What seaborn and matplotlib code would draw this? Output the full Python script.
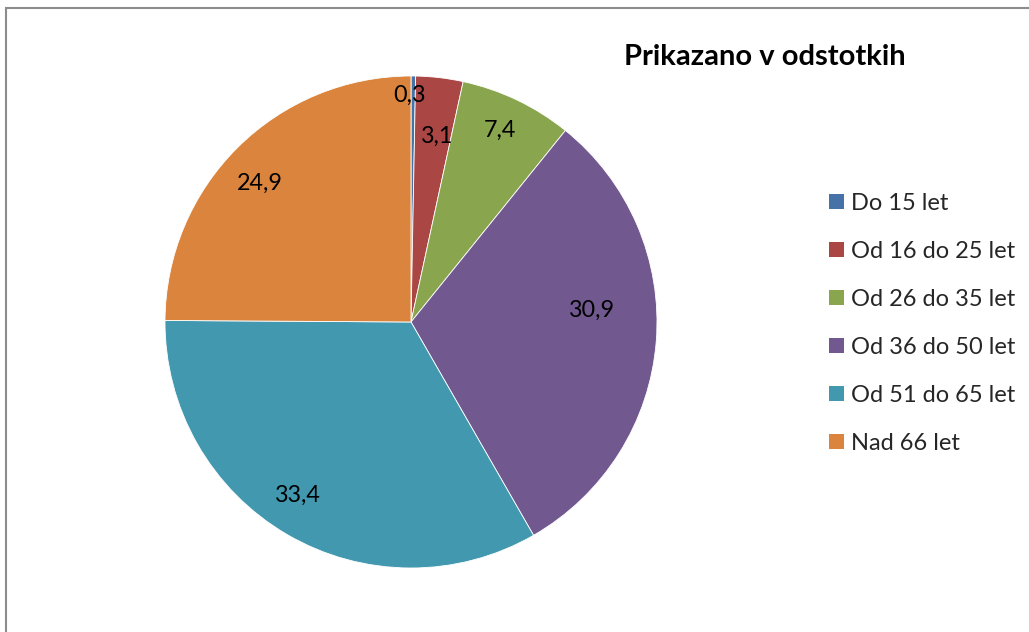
import matplotlib
matplotlib.use("Agg")
import matplotlib.pyplot as plt
import matplotlib.patches as mpatches
import numpy as np
import seaborn as sns

categories = ["Do 15 let", "Od 16 do 25 let", "Od 26 do 35 let",
              "Od 36 do 50 let", "Od 51 do 65 let", "Nad 66 let"]
values = [0.3, 3.1, 7.4, 30.9, 33.4, 24.9]
value_labels = ["0,3", "3,1", "7,4", "30,9", "33,4", "24,9"]
title_text = "Prikazano v odstotkih"

colors = ["#4572A7", "#AA4643", "#89A54E", "#71588F", "#4198AF", "#DB843D"]
label_radius = [0.923, 0.764, 0.86, 0.736, 0.84, 0.835]
label_angle_offset = [1.0, -1.3, 0.7, 8.3, -2.8, 2.6]

sns.set_theme(style="white")
plt.rcParams["font.family"] = ["Lato", "DejaVu Sans"]

W, H = 1029, 632
fig = plt.figure(figsize=(W / 100, H / 100), dpi=100)

cx, cy, r = 411, 322, 246
ax = fig.add_axes([(cx - r) / W, (H - cy - r) / H, 2 * r / W, 2 * r / H])
palette = sns.color_palette(colors)
wedges, _ = ax.pie(values, colors=palette, startangle=90, counterclock=False,
                   wedgeprops=dict(edgecolor="white", linewidth=0.6))
ax.set_xlim(-1, 1)
ax.set_ylim(-1, 1)
ax.set_aspect("equal")
ax.axis("off")

for w, lab, rf, off in zip(wedges, value_labels, label_radius, label_angle_offset):
    ang = np.deg2rad((w.theta1 + w.theta2) / 2 + off)
    ax.text(rf * np.cos(ang), rf * np.sin(ang), lab, ha="center", va="center",
            fontsize=16.8, color="black")

fig.text(765 / W, 1 - 57 / H, title_text, ha="center", va="center",
         fontsize=21, fontweight="bold", color="black")

handles = [mpatches.Patch(facecolor=c, edgecolor="none") for c in palette]
fig.legend(handles, categories, loc="upper left",
           bbox_to_anchor=(829 / W, 1 - 193 / H), frameon=False,
           fontsize=17, handlelength=0.62, handleheight=0.62,
           handletextpad=0.3, labelspacing=1.14, borderpad=0, borderaxespad=0)

border = mpatches.Rectangle((6 / W, -0.1), 1.2, (H - 8) / H + 0.1,
                            transform=fig.transFigure, fill=False,
                            edgecolor="#8c8c8c", linewidth=1.5, clip_on=False)
fig.patches.append(border)

fig.savefig("out.png", dpi=100)
